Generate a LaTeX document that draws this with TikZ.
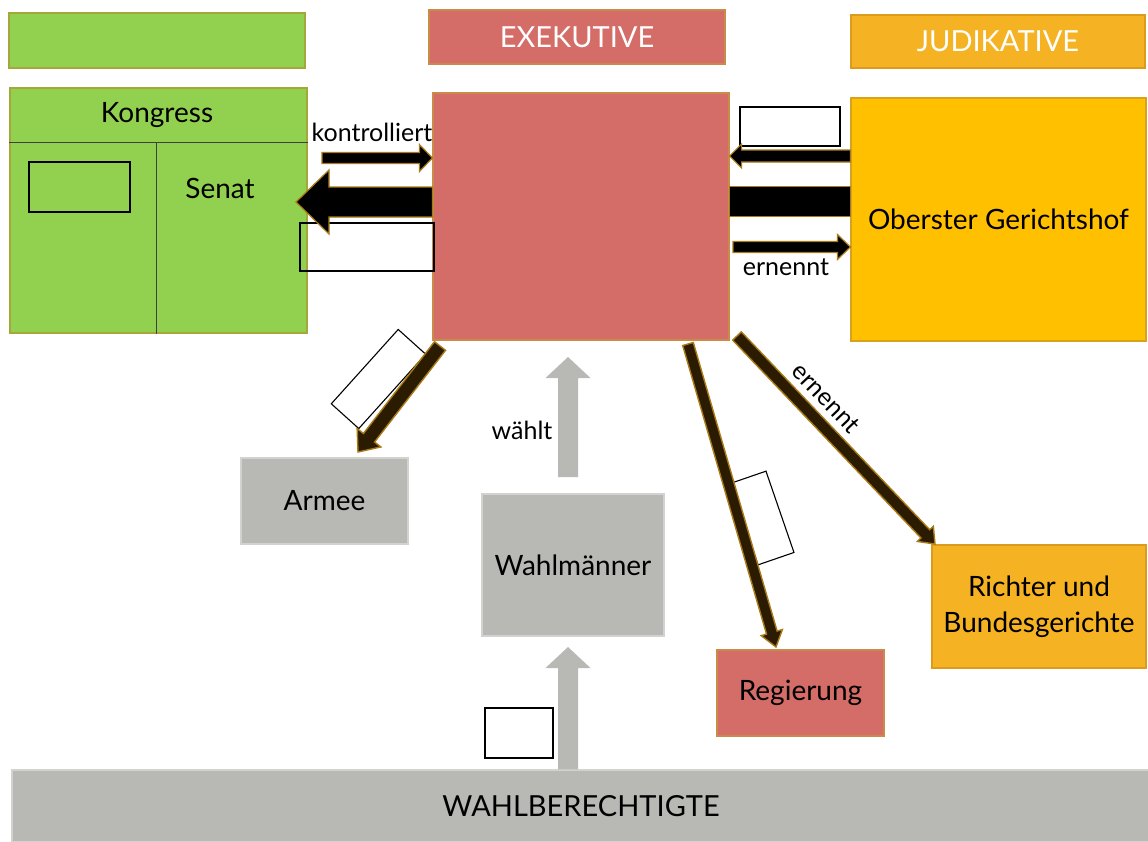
\documentclass[tikz,border=0pt]{standalone}
\usepackage{fontspec}
\setmainfont{Lato}
\usetikzlibrary{calc}
\definecolor{cgreen}{HTML}{92D050}
\definecolor{cgreenb}{HTML}{A3A838}
\definecolor{cred}{HTML}{D46C68}
\definecolor{credb}{HTML}{C98A4A}
\definecolor{cyel}{HTML}{FFC000}
\definecolor{cyelb}{HTML}{D9A21E}
\definecolor{corg}{HTML}{F5B223}
\definecolor{corgb}{HTML}{DB9B1C}
\definecolor{cgray}{HTML}{B8B9B4}
\definecolor{cgrayb}{HTML}{D2D3CF}
\definecolor{cbrown}{HTML}{2B1B00}
\definecolor{cgold}{HTML}{A87A18}
\newcommand\barrow[6]{%
  \coordinate (bahead) at ($(#3)!#6!(#2)$);
  \draw[#1] ($(#2)!#4!90:(#3)$) -- ($(bahead)!#4!-90:(#2)$) -- ($(bahead)!#5!-90:(#2)$) -- (#3) -- ($(bahead)!#5!90:(#2)$) -- ($(bahead)!#4!90:(#2)$) -- ($(#2)!#4!-90:(#3)$) -- cycle;
}
\tikzset{
  box/.style={draw, line width=1.2pt, inner sep=0pt, align=center, font=\fontsize{28}{36}\selectfont},
  greenbox/.style={box, fill=cgreen, draw=cgreenb},
  redbox/.style={box, fill=cred, draw=credb},
  yelbox/.style={box, fill=cyel, draw=cyelb},
  orgbox/.style={box, fill=corg, draw=corgb},
  graybox/.style={box, fill=cgray, draw=cgrayb},
  bartext/.style={text=white, font=\fontsize{29}{34}\selectfont},
  emptybox/.style={draw=black, line width=1.1pt, inner sep=0pt},
  lbl/.style={inner sep=0pt, font=\fontsize{25}{30}\selectfont},
  harr/.style={fill=black, draw=cgold, line width=1.2pt, line join=miter},
  darr/.style={fill=cbrown, draw=cgold, line width=1.4pt, line join=miter},
  garr/.style={fill=cgray, draw=none},
  divider/.style={draw=black!75, line width=1.4pt}
}
\begin{document}
\begin{tikzpicture}[x=1pt, y=-1pt]
\useasboundingbox (0,0) rectangle (1148,841);
% header bars
\node[greenbox, minimum width=296pt, minimum height=55pt] (leg) at (157,40.5) {};
\node[redbox, bartext, minimum width=296pt, minimum height=54pt] (exh) at (577,37) {EXEKUTIVE};
\node[orgbox, bartext, minimum width=294pt, minimum height=53pt] (jud) at (998,41.5) {JUDIKATIVE};
% Kongress
\node[greenbox, minimum width=297pt, minimum height=245pt] (kon) at (158.5,210.5) {};
\draw[divider] ([yshift=-55pt]kon.north west) -- ([yshift=-55pt]kon.north east);
\draw[divider] ([xshift=147pt,yshift=-55pt]kon.north west) -- ([xshift=147pt]kon.south west);
\node[inner sep=0pt, font=\fontsize{28}{36}\selectfont] (kontxt) at (157,115) {Kongress};
\node[inner sep=0pt, font=\fontsize{28}{36}\selectfont] (sen) at (220,188) {Senat};
\node[emptybox, minimum width=101pt, minimum height=50pt] (r1) at (79.5,187) {};
% main boxes
\node[redbox, minimum width=296pt, minimum height=247pt] (ex) at (581,216.5) {};
\node[yelbox, minimum width=295pt, minimum height=243pt] (og) at (998.5,219.5) {Oberster Gerichtshof};
\node[graybox, minimum width=167pt, minimum height=86pt] (ar) at (324.5,501) {Armee};
\node[graybox, minimum width=182pt, minimum height=142pt] (wm) at (573,565) {Wahlmänner};
\node[redbox, minimum width=167pt, minimum height=86pt] (rg) at (800.5,693) {Regierung};
\node[orgbox, minimum width=214pt, minimum height=123pt] (ri) at (1039,606.5) {Richter und\\Bundesgerichte};
\node[graybox, minimum width=1138pt, minimum height=72pt, font=\fontsize{29}{34}\selectfont] (wb) at (581,806) {WAHLBERECHTIGTE};
% empty boxes
\node[emptybox, minimum width=134pt, minimum height=48pt] (r2) at (367,247) {};
\node[emptybox, minimum width=100pt, minimum height=39pt] (r3) at (790,126.5) {};
\node[emptybox, minimum width=68pt, minimum height=50pt] (r4) at (519,733) {};
\node[emptybox, minimum width=100pt, minimum height=37pt, rotate=48] (r5) at (378.5,379) {};
\node[emptybox, minimum width=86pt, minimum height=38pt, rotate=-71] (r6) at (762,518) {};
% arrow end points
\coordinate (k1) at (322,158);
\coordinate (k2) at (ex.west |- k1);
\coordinate (s1) at (ex.west |- 0,202);
\coordinate (s2) at (296,202);
\coordinate (o1) at (og.west |- 0,156);
\coordinate (o2) at (ex.east |- o1);
\coordinate (b1) at (ex.east |- 0,201);
\coordinate (b2) at (og.west |- b1);
\coordinate (e1) at (733,247);
\coordinate (e2) at (og.west |- e1);
\coordinate (a1) at (440,346);
\coordinate (a2) at (358,452);
\coordinate (g1) at (688,344);
\coordinate (g2) at (776,647);
\coordinate (j1) at (737,336);
\coordinate (j2) at (935,544);
\coordinate (w1) at (568,477);
\coordinate (w2) at (568,357);
\coordinate (v1) at (wb.north -| w1);
\coordinate (v2) at (568,647);
% arrows
\barrow{harr}{k1}{k2}{5.5pt}{13.5pt}{13pt}
\barrow{harr}{s1}{s2}{15pt}{32pt}{33pt}
\barrow{harr}{o1}{o2}{6pt}{12pt}{12pt}
\draw[draw=cgold, fill=black, line width=0.8pt] ($(b1)+(0,-15)$) rectangle ($(b2)+(0,15)$);
\barrow{harr}{e1}{e2}{5.5pt}{12.5pt}{13pt}
\barrow{darr}{a1}{a2}{7pt}{15pt}{18pt}
\barrow{darr}{g1}{g2}{5.5pt}{11pt}{15pt}
\barrow{darr}{j1}{j2}{6pt}{11pt}{14pt}
\barrow{garr}{w1}{w2}{10pt}{22.5pt}{21pt}
\barrow{garr}{v1}{v2}{10pt}{22.5pt}{21pt}
% labels
\node[lbl] (lk) at (372,132) {kontrolliert};
\node[lbl] (le) at (786,267) {ernennt};
\node[lbl] (lw) at (522,430) {wählt};
\node[lbl, rotate=-46.4] (lr) at ($(j1)!0.37!(j2)+(16,-15)$) {ernennt};
\end{tikzpicture}
\end{document}
